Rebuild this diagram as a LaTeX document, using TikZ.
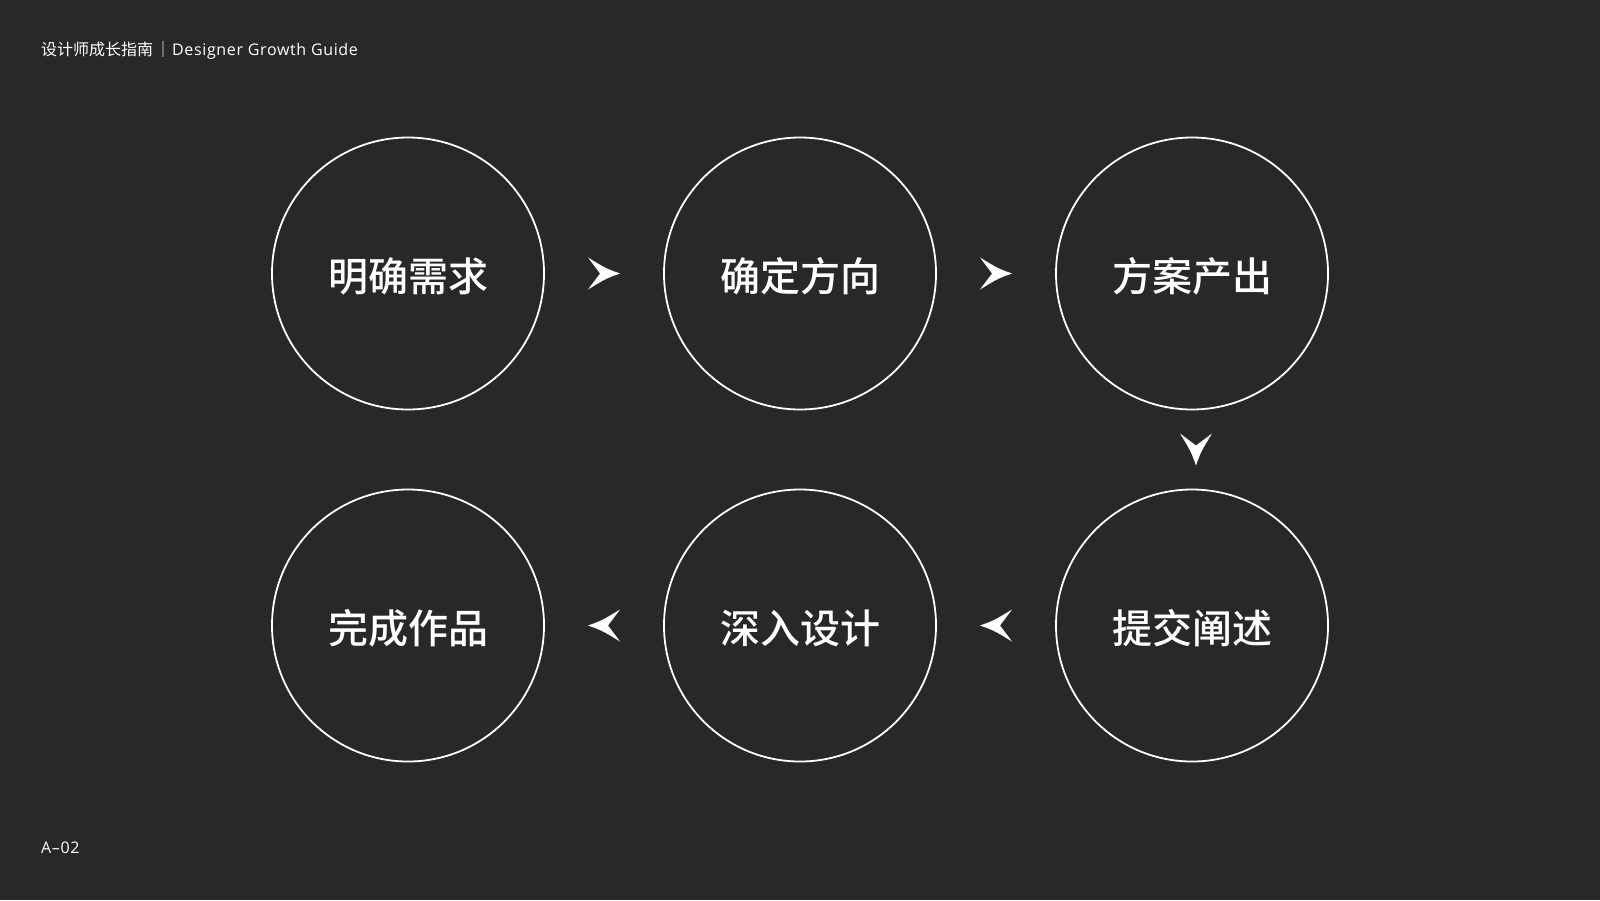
\documentclass[tikz,border=0pt]{standalone}
\usepackage{fontspec}
\setmainfont{Noto Sans CJK SC}
\newfontfamily\cjkmed{Noto Sans CJK SC Medium}
\newfontfamily\latin[LetterSpace=4]{Open Sans}
\usetikzlibrary{calc}
\definecolor{bg}{HTML}{28282A}
\newcommand{\lowered}[1]{\raisebox{-2.5pt}[\height][\depth]{#1}}
\begin{document}
\begin{tikzpicture}[x=1pt,y=-1pt,
  stage/.style={circle,draw=white,line width=1.8pt,minimum size=272pt,inner sep=0pt,
    text=white,font=\fontsize{40}{40}\selectfont\cjkmed},
  small/.style={text=white,font=\fontsize{16}{16}\selectfont,inner sep=0pt},
  chev/.pic={\fill[white] (16,0) .. controls (2,-5) .. (-16,-16) -- (-4,0) -- (-16,16) .. controls (2,5) .. (16,0) -- cycle;}]
\fill[bg] (0,0) rectangle (1600,900);
\useasboundingbox (0,0) rectangle (1600,900);
\node[small,anchor=west] (title) at (41,50) {设计师成长指南\hspace{2pt}｜\hspace{1pt}{\latin Designer Growth Guide}};
\node[small,anchor=west] (page) at (41,848) {\latin A–02};
\node[stage] (s1) at (408,273.5) {\lowered{明确需求}};
\node[stage] (s2) at (800,273.5) {\lowered{确定方向}};
\node[stage] (s3) at (1192,273.5) {\lowered{方案产出}};
\node[stage] (s4) at (1192,625.5) {\lowered{提交阐述}};
\node[stage] (s5) at (800,625.5) {\lowered{深入设计}};
\node[stage] (s6) at (408,625.5) {\lowered{完成作品}};
\pic at ($(s1.east)!0.5!(s2.west)$) {chev};
\pic at ($(s2.east)!0.5!(s3.west)$) {chev};
\pic[rotate=-90] at ($(s3.south)!0.5!(s4.north)+(4,0)$) {chev};
\pic[rotate=180] at ($(s4.west)!0.5!(s5.east)$) {chev};
\pic[rotate=180] at ($(s5.west)!0.5!(s6.east)$) {chev};
\end{tikzpicture}
\end{document}
